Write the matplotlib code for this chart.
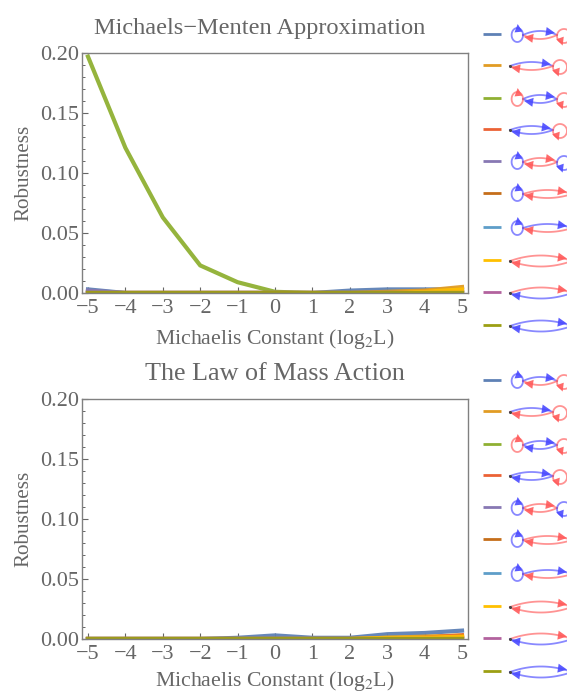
import numpy as np
import matplotlib
matplotlib.use("Agg")
import matplotlib.pyplot as plt

plt.rcParams['font.family'] = ['Liberation Serif', 'DejaVu Serif']
plt.rcParams['mathtext.fontset'] = 'stix'

W, H = 567, 693
GREY = '#666666'
BLUE = '#4a4aff'
RED = '#ff5a5a'

log_k = [-5, -4, -3, -2, -1, 0, 1, 2, 3, 4, 5]
colors = ['#5e81b5', '#e19c24', '#8fb032', '#eb6235', '#8778b3',
          '#c56e1a', '#5e9ec9', '#ffc000', '#b2629e', '#9c9f13']

# robustness, Michaelis-Menten
mm_1 = [0.003, 0.0, 0.0, 0.0, 0.0, 0.0, 0.0, 0.002, 0.003, 0.003, 0.003]
mm_2 = [0.0, 0.0, 0.0, 0.0, 0.0, 0.0, 0.0, 0.0, 0.001, 0.002, 0.005]
mm_3 = [0.197, 0.121, 0.063, 0.023, 0.009, 0.001, 0.0, 0.0, 0.0, 0.0, 0.0]
mm_4 = [0.0, 0.0, 0.0, 0.0, 0.0, 0.0, 0.0, 0.0, 0.0, 0.001, 0.002]
mm_5 = [0.002, 0.0, 0.0, 0.0, 0.0, 0.0, 0.0, 0.0, 0.0, 0.0, 0.001]
mm_6 = [0.0] * 11
mm_7 = [0.0] * 11
mm_8 = [0.0, 0.0, 0.0, 0.0, 0.0, 0.0, 0.0, 0.0, 0.0, 0.001, 0.003]
mm_9 = [0.0] * 11
mm_10 = [0.0] * 11

# robustness, mass action
ma_1 = [0.0, 0.0, 0.0, 0.0, 0.001, 0.003, 0.001, 0.001, 0.004, 0.005, 0.007]
ma_2 = [0.0, 0.0, 0.0, 0.0, 0.0, 0.0, 0.0, 0.0, 0.001, 0.002, 0.003]
ma_3 = [0.0] * 11
ma_4 = [0.0, 0.0, 0.0, 0.0, 0.0, 0.0, 0.0, 0.0, 0.0, 0.001, 0.003]
ma_5 = [0.0] * 11
ma_6 = [0.0, 0.0, 0.0, 0.0, 0.0, 0.0, 0.0, 0.0, 0.0, 0.0, 0.002]
ma_7 = [0.0] * 11
ma_8 = [0.0, 0.0, 0.0, 0.0, 0.0, 0.0, 0.0, 0.0, 0.001, 0.001, 0.002]
ma_9 = [0.0] * 11
ma_10 = [0.0] * 11

mm_series = [mm_1, mm_2, mm_3, mm_4, mm_5, mm_6, mm_7, mm_8, mm_9, mm_10]
ma_series = [ma_1, ma_2, ma_3, ma_4, ma_5, ma_6, ma_7, ma_8, ma_9, ma_10]

# left loop, top arc, bottom arc, right loop
motifs = [(BLUE, BLUE, RED, RED), (None, BLUE, RED, RED),
          (RED, BLUE, BLUE, RED), (None, BLUE, BLUE, RED),
          (BLUE, RED, RED, BLUE), (BLUE, RED, RED, None),
          (BLUE, BLUE, RED, None), (None, RED, RED, None),
          (None, RED, BLUE, None), (None, BLUE, BLUE, None)]
row_y = [34, 65, 98, 129, 161, 193, 227, 260, 292, 325]


def make_axes(left, top, right, bottom):
    return fig.add_axes([left / W, 1 - bottom / H, (right - left) / W, (bottom - top) / H])


def draw_panel(ax, series, title, title_size, title_x, xlabel_pad):
    for s, c in zip(series, colors):
        ax.plot(log_k, s, color=c, lw=3.0, alpha=0.95, solid_joinstyle='miter')
    ax.set_xlim(-5.16, 5.16)
    ax.set_ylim(0, 0.2)
    ax.set_xticks(log_k)
    ax.set_xticklabels([str(v).replace('-', '\u2212') for v in log_k])
    ax.set_yticks([0, 0.05, 0.10, 0.15, 0.20])
    ax.set_yticklabels(['0.00', '0.05', '0.10', '0.15', '0.20'])
    ax.set_yticks(np.arange(0, 0.2, 0.01), minor=True)
    ax.tick_params(which='major', direction='in', length=4, width=0.8, color=GREY,
                   labelcolor=GREY, labelsize=16, pad=4)
    ax.tick_params(which='minor', direction='in', length=2, width=0.7, color=GREY)
    ax.tick_params(axis='y', pad=2)
    for sp in ax.spines.values():
        sp.set_color('#808080')
        sp.set_linewidth(1.0)
    ax.set_xlabel('Michaelis Constant (log$_2$L)', color=GREY, fontsize=15.7, labelpad=xlabel_pad)
    ax.set_ylabel('Robustness', color=GREY, fontsize=15.2, labelpad=5)
    ax.set_title(title, color=GREY, fontsize=title_size, pad=14, x=title_x)


def arrow(ov, x, y, dx, dy, c, size=9.0):
    # x, y is the middle of the base, dx, dy the way it points
    n = np.hypot(dx, dy)
    dx, dy = dx / n, dy / n
    pts = [(x + dx * size, y + dy * size),
           (x - dy * size * 0.5, y + dx * size * 0.5),
           (x + dy * size * 0.5, y - dx * size * 0.5)]
    ov.fill(*zip(*pts), color=c, lw=0, alpha=0.9, zorder=4)


def draw_motif(ov, y, motif):
    left, top, bot, right = motif
    x0 = 523 if left else 510
    x1 = 557 if right else 572
    if right and not left:
        x1 = 553
    t = np.linspace(0, 1, 40)
    bulge = 4 if (left or right) else 5.5
    for c, sign in ((top, -1), (bot, 1)):
        xs = x0 + (x1 - x0) * t
        ys = y + sign * bulge * 4 * t * (1 - t)
        ov.plot(xs, ys, color=c, lw=1.3, alpha=0.65, zorder=3)
    tip = min(x1 - 2, 567)
    base = tip - 9
    tt = (base - x0) / (x1 - x0)
    arrow(ov, base, y - bulge * 4 * tt * (1 - tt), 1, 0.15, top)
    base = x0 + 10
    tt = 10 / (x1 - x0)
    arrow(ov, base, y + bulge * 4 * tt * (1 - tt), -1, -0.15, bot)
    if left:
        th = np.linspace(0, 2 * np.pi, 60)
        ov.plot(x0 - 5.7 + 5.7 * np.cos(th), y + 7 * np.sin(th), color=left, lw=1.3,
                alpha=0.65, zorder=3)
        arrow(ov, x0 - 4.5, y - 3, -0.1, -1, left, 8)
    else:
        ov.plot([x0], [y], 'o', ms=1.2, color='#444444', zorder=4)
    if right:
        th = np.linspace(0, 2 * np.pi, 60)
        ov.plot(x1 + 7 + 7 * np.cos(th), y + 1 + 7 * np.sin(th), color=right, lw=1.3,
                alpha=0.65, zorder=3)
        arrow(ov, x1 + 3, y + 3, 0.35, 1, right, 8)


fig = plt.figure(figsize=(W / 100, H / 100), dpi=100)

ax1 = make_axes(82, 53, 468, 293)
draw_panel(ax1, mm_series, 'Michaels\u2212Menten Approximation', 17.6, 0.461, 7)
ax2 = make_axes(82, 399, 468, 639)
draw_panel(ax2, ma_series, 'The Law of Mass Action', 18.8, 0.5, 4)

# overlay in pixel coordinates for the legend glyphs
ov = fig.add_axes([0, 0, 1, 1], facecolor='none')
ov.set_xlim(0, W)
ov.set_ylim(H, 0)
ov.axis('off')
for offset in (0, 346):
    for y, c, m in zip(row_y, colors, motifs):
        ov.plot([483, 501], [y + offset, y + offset], color=c, lw=2.0, solid_capstyle='butt')
        draw_motif(ov, y + offset + 1, m)

fig.savefig('out.png', dpi=100)
